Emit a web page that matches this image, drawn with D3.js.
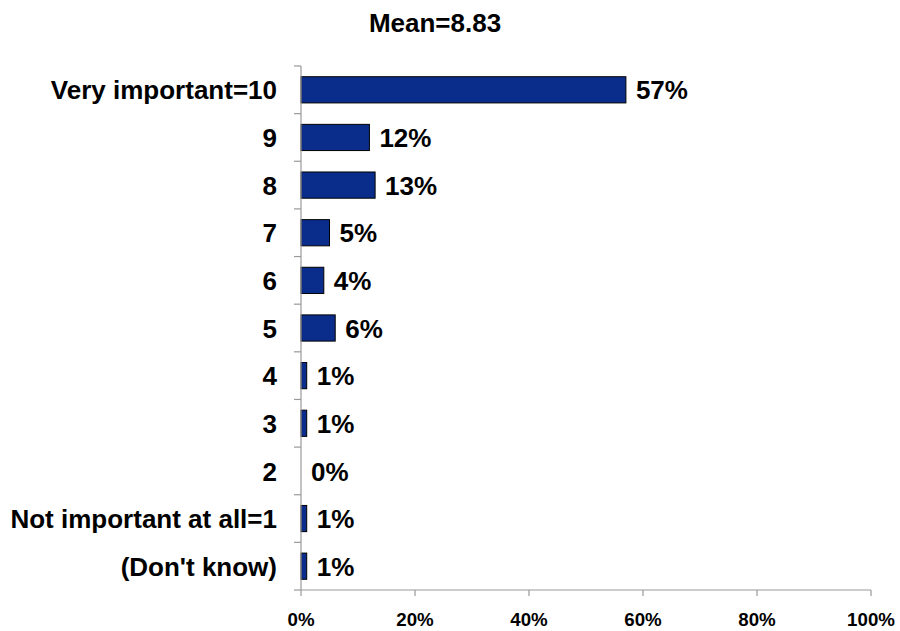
<!DOCTYPE html>
<html>
<head>
<meta charset="utf-8">
<script src="https://cdn.jsdelivr.net/npm/d3@7"></script>
<style>
  html, body { margin: 0; padding: 0; background: #ffffff; }
  svg { display: block; }
  text { font-family: "Liberation Sans", Arial, sans-serif; font-weight: bold; fill: #000; }
</style>
</head>
<body>
<svg id="chart" width="900" height="631"></svg>
<script>
// Importance rating distribution
const categories = ["Very important=10", "9", "8", "7", "6", "5", "4", "3", "2", "Not important at all=1", "(Don't know)"];
const values = [57, 12, 13, 5, 4, 6, 1, 1, 0, 1, 1];
const xTicks = [0, 20, 40, 60, 80, 100];
const title = "Mean=8.83";

const svg = d3.select("#chart");
const plotLeft = 301, plotRight = 871, plotTop = 66, plotBottom = 590;

const x = d3.scaleLinear().domain([0, 100]).range([plotLeft, plotRight]);
const y = d3.scaleBand().domain(categories).range([plotTop, plotBottom]).paddingInner(0.45).paddingOuter(0.225);

const rows = categories.map((c, i) => ({ c, v: values[i] }));

// Title
svg.append("text")
  .attr("x", 435).attr("y", 32)
  .attr("text-anchor", "middle")
  .style("font-size", "26px")
  .text(title);

// Bars
svg.append("g").selectAll("rect")
  .data(rows)
  .join("rect")
  .attr("x", x(0))
  .attr("y", d => y(d.c))
  .attr("width", d => x(d.v) - x(0))
  .attr("height", y.bandwidth())
  .attr("fill", "#0a2d8c")
  .attr("stroke", "#000")
  .attr("stroke-width", 1);

// Value labels
svg.append("g").selectAll("text")
  .data(rows)
  .join("text")
  .attr("x", d => x(d.v) + 10)
  .attr("y", d => y(d.c) + y.bandwidth() / 2)
  .attr("dy", "0.37em")
  .style("font-size", "26px")
  .text(d => d.v + "%");

// Category axis (ticks on band boundaries)
const axisColor = "#999";
const yAxis = svg.append("g");
yAxis.append("line")
  .attr("x1", plotLeft).attr("x2", plotLeft)
  .attr("y1", plotTop).attr("y2", plotBottom)
  .attr("stroke", axisColor).attr("stroke-width", 1.2);
yAxis.selectAll("line.tick")
  .data(d3.range(categories.length + 1))
  .join("line").attr("class", "tick")
  .attr("x1", plotLeft - 7).attr("x2", plotLeft)
  .attr("y1", i => plotTop + i * (plotBottom - plotTop) / categories.length)
  .attr("y2", i => plotTop + i * (plotBottom - plotTop) / categories.length)
  .attr("stroke", axisColor).attr("stroke-width", 1.2);
yAxis.selectAll("text")
  .data(categories)
  .join("text")
  .attr("x", 277)
  .attr("y", d => y(d) + y.bandwidth() / 2)
  .attr("dy", "0.37em")
  .attr("text-anchor", "end")
  .style("font-size", "26px")
  .text(d => d);

// Value axis
const xAxis = svg.append("g");
xAxis.append("line")
  .attr("x1", plotLeft).attr("x2", plotRight)
  .attr("y1", plotBottom).attr("y2", plotBottom)
  .attr("stroke", axisColor).attr("stroke-width", 1.2);
xAxis.selectAll("line.tick")
  .data(xTicks)
  .join("line").attr("class", "tick")
  .attr("x1", d => x(d)).attr("x2", d => x(d))
  .attr("y1", plotBottom).attr("y2", plotBottom + 6)
  .attr("stroke", axisColor).attr("stroke-width", 1.2);
xAxis.selectAll("text")
  .data(xTicks)
  .join("text")
  .attr("x", d => x(d))
  .attr("y", 626)
  .attr("text-anchor", "middle")
  .style("font-size", "18.7px")
  .text(d => d + "%");
</script>
</body>
</html>
